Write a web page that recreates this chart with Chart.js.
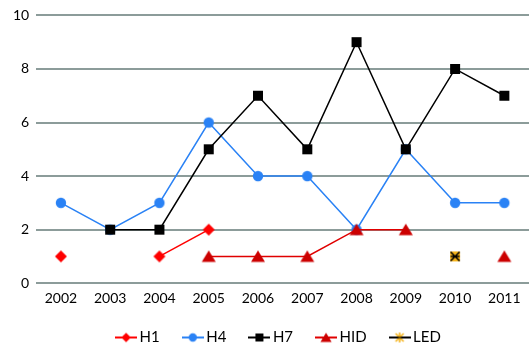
<!DOCTYPE html>
<html><head><meta charset="utf-8">
<script src="https://cdn.jsdelivr.net/npm/chart.js@4"></script>
<style>html,body{margin:0;padding:0;background:#fff}#wrap{width:529px;height:345px}</style>
</head><body><div id="wrap"><canvas id="c" width="529" height="345"></canvas></div>
<script>
const categories = ["2002","2003","2004","2005","2006","2007","2008","2009","2010","2011"];
const h1  = [1, null, 1, 2, null, null, null, null, null, null];
const h4  = [3, 2, 3, 6, 4, 4, 2, 5, 3, 3];
const h7  = [null, 2, 2, 5, 7, 5, 9, 5, 8, 7];
const hid = [null, null, null, 1, 1, 1, 2, 2, null, 1];
const led = [null, null, null, null, null, null, null, null, 1, null];
const yTicks = [0, 2, 4, 6, 8, 10];

function drawMarker(ctx, type, x, y, color) {
  ctx.save();
  ctx.fillStyle = color;
  ctx.beginPath();
  if (type === 'diamond') {
    ctx.moveTo(x, y-6); ctx.lineTo(x+6, y); ctx.lineTo(x, y+6); ctx.lineTo(x-6, y); ctx.closePath(); ctx.fill();
  } else if (type === 'circle') {
    ctx.arc(x, y, 5.2, 0, Math.PI*2); ctx.fill();
  } else if (type === 'square') {
    ctx.fillRect(x-5, y-5, 10, 10);
  } else if (type === 'triangle') {
    ctx.moveTo(x, y-6); ctx.lineTo(x+7, y+5.5); ctx.lineTo(x-7, y+5.5); ctx.closePath(); ctx.fill();
  } else if (type === 'led') {
    ctx.fillStyle = '#f5b31a';
    ctx.fillRect(x-5, y-5, 10, 10);
    ctx.strokeStyle = '#000'; ctx.lineWidth = 1.5;
    ctx.beginPath();
    ctx.moveTo(x-4.5, y-4.5); ctx.lineTo(x+4.5, y+4.5);
    ctx.moveTo(x+4.5, y-4.5); ctx.lineTo(x-4.5, y+4.5);
    ctx.moveTo(x-4.5, y); ctx.lineTo(x+4.5, y);
    ctx.stroke();
  }
  ctx.restore();
}
function markerCanvas(type, color) {
  const c = document.createElement('canvas'); c.width = 16; c.height = 16;
  drawMarker(c.getContext('2d'), type, 8, 8, color);
  return c;
}
function legendCanvas(type, lineColor, markColor) {
  const W = 22;
  const c = document.createElement('canvas'); c.width = W; c.height = 12;
  const ctx = c.getContext('2d');
  ctx.strokeStyle = lineColor; ctx.lineWidth = 2;
  ctx.beginPath(); ctx.moveTo(0, 6); ctx.lineTo(W, 6); ctx.stroke();
  const m = W / 2;
  if (type === 'led') {
    ctx.strokeStyle = '#f5b31a'; ctx.lineWidth = 1.6;
    ctx.beginPath();
    ctx.moveTo(m-4, 2); ctx.lineTo(m+4, 10); ctx.moveTo(m+4, 2); ctx.lineTo(m-4, 10);
    ctx.moveTo(m, 1); ctx.lineTo(m, 11); ctx.stroke();
    ctx.strokeStyle = '#000'; ctx.lineWidth = 1.2;
    ctx.beginPath(); ctx.moveTo(m-4, 6); ctx.lineTo(m+4, 6); ctx.stroke();
  } else {
    ctx.save(); ctx.translate(m, 6); ctx.scale(0.8, 0.8);
    drawMarker(ctx, type, 0, 0, markColor);
    ctx.restore();
  }
  return c;
}

const specs = [
  {label:'H1', data:h1, type:'diamond', line:'#ff0000', mark:'#ff0000', order:1},
  {label:'H4', data:h4, type:'circle', line:'#2a82f5', mark:'#2a82f5', order:4},
  {label:'H7', data:h7, type:'square', line:'#000000', mark:'#000000', order:3},
  {label:'HID', data:hid, type:'triangle', line:'#e00000', mark:'#cc0000', order:2},
  {label:'LED', data:led, type:'led', line:'#000000', mark:'#f5b31a', order:0}
];

const LEGEND_H = 31;
const legendTweak = {
  id: 'legendTweak',
  afterInit(chart) {
    const l = chart.legend;
    if (l && !l._patched) {
      const orig = l.fit;
      l.fit = function() { orig.call(this); this.height = LEGEND_H; };
      l._patched = true;
    }
  },
  afterLayout(chart) {
    const l = chart.legend;
    if (l) { l.left = 16; l.right = 545; l.width = 529; l.top -= 11; l.height += 11; }
  }
};

new Chart(document.getElementById('c'), {
  type: 'line',
  plugins: [legendTweak],
  data: {
    labels: categories,
    datasets: specs.map(s => ({
      label: s.label,
      data: s.data,
      borderColor: s.line,
      backgroundColor: s.mark,
      borderWidth: 1.5,
      pointStyle: markerCanvas(s.type, s.mark),
      pointRadius: 5,
      spanGaps: false,
      order: s.order,
      legendImg: legendCanvas(s.type, s.line, s.mark)
    }))
  },
  options: {
    responsive: false,
    animation: false,
    layout: {autoPadding: false, padding: {left: 6, right: 0, top: -1, bottom: 0}},
    plugins: {
      tooltip: {enabled: false},
      legend: {
        position: 'bottom',
        labels: {
          usePointStyle: true,
          pointStyleWidth: 12,
          boxHeight: 12,
          padding: 27,
          color: '#000',
          font: {family: 'Lato, "Liberation Sans", sans-serif', size: 15},
          generateLabels: chart => chart.data.datasets.map((d, i) => ({
            text: d.label, pointStyle: d.legendImg, datasetIndex: i,
            fillStyle: d.backgroundColor, strokeStyle: d.borderColor, lineWidth: 0, hidden: false
          }))
        }
      }
    },
    scales: {
      x: {
        offset: true,
        grid: {display: false, drawTicks: false},
        border: {display: false},
        ticks: {color: '#000', padding: 7, font: {family: 'Lato, "Liberation Sans", sans-serif', size: 14}}
      },
      y: {
        min: 0, max: 10,
        afterBuildTicks: ax => { ax.ticks = yTicks.map(v => ({value: v})); },
        grid: {color: '#8c9c9a', lineWidth: 2, drawTicks: false},
        border: {display: false},
        ticks: {color: '#000', padding: 7, font: {family: 'Lato, "Liberation Sans", sans-serif', size: 14}}
      }
    }
  }
});
</script></body></html>
